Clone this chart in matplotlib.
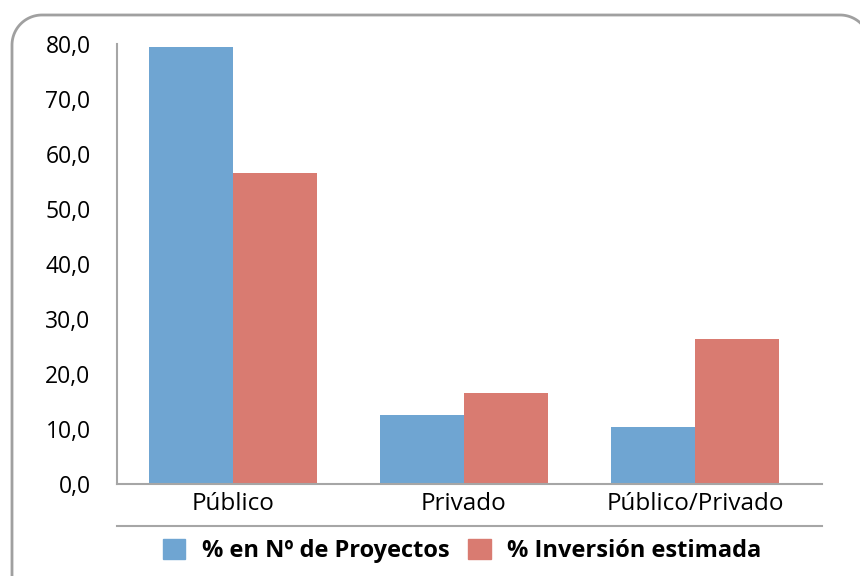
import matplotlib.pyplot as plt
from matplotlib.patches import Patch
from matplotlib.lines import Line2D
import numpy as np

categorias = ["Público", "Privado", "Público/Privado"]
pct_proyectos = [79.4, 12.5, 10.4]
pct_inversion = [56.5, 16.6, 26.4]
series = ["% en Nº de Proyectos", "% Inversión estimada"]
yticks = [0, 10, 20, 30, 40, 50, 60, 70, 80]

azul = "#6fa5d2"
rojo = "#d97b71"
gris = "#a6a6a6"

plt.rcParams["font.family"] = ["Open Sans", "DejaVu Sans"]

fig = plt.figure(figsize=(8.6, 5.76), dpi=100)
ax = fig.add_axes([117 / 860, 92 / 576, 705 / 860, 440 / 576])

x = np.arange(len(categorias))
w = 0.364
ax.bar(x - w / 2, pct_proyectos, w, color=azul, label=series[0])
ax.bar(x + w / 2, pct_inversion, w, color=rojo, label=series[1])

ax.set_xlim(-0.502, 2.55)
ax.set_ylim(0, 80)
ax.set_yticks(yticks)
ax.set_yticklabels([f"{v:.1f}".replace(".", ",") for v in yticks])
ax.set_xticks(x)
ax.set_xticklabels(categorias)
ax.tick_params(axis="y", length=0, pad=19, labelsize=16.5)
ax.tick_params(axis="x", length=0, pad=6, labelsize=17.5)
for s in ["top", "right"]:
    ax.spines[s].set_visible(False)
for s in ["left", "bottom"]:
    ax.spines[s].set_color(gris)
    ax.spines[s].set_linewidth(1.5)

# separator line above legend
fig.add_artist(Line2D([117 / 860, 822 / 860], [1 - 526 / 576] * 2,
                      color=gris, lw=1.5, transform=fig.transFigure))

# rounded frame, drawn in pixels (origin bottom-left); right side is off canvas
r = 30
left, right, top = 12, 870, 561
t = np.linspace(0, np.pi / 2, 30)
arc_l_x = left + r - r * np.cos(t)
arc_l_y = top - r + r * np.sin(t)
arc_r_x = right - r + r * np.sin(t)
arc_r_y = top - r + r * np.cos(t)
fx = np.concatenate([[left], arc_l_x, arc_r_x, [right]])
fy = np.concatenate([[-10], arc_l_y, arc_r_y, [-10]])
fig.add_artist(Line2D(fx / 860, fy / 576, color="#a0a0a0", lw=2,
                      transform=fig.transFigure))

handles = [Patch(color=azul), Patch(color=rojo)]
fig.legend(handles, series, loc="center", bbox_to_anchor=(462 / 860, 1 - 551 / 576),
           ncol=2, frameon=False, handlelength=0.95, handleheight=0.95,
           handletextpad=0.7, columnspacing=0.8,
           prop={"size": 17, "weight": "bold"})

fig.savefig("out.png", dpi=100)
